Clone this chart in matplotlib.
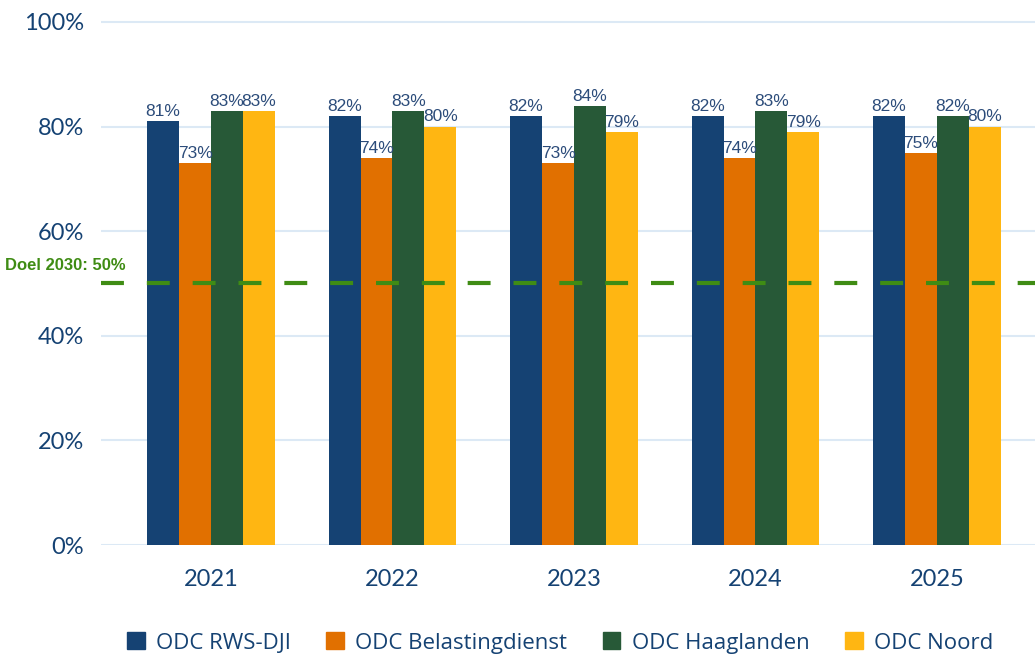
import numpy as np
import matplotlib.pyplot as plt
from matplotlib.patches import Patch

years = ['2021', '2022', '2023', '2024', '2025']
series_names = ['ODC RWS-DJI', 'ODC Belastingdienst', 'ODC Haaglanden', 'ODC Noord']
rws_dji = [81, 82, 82, 82, 82]
belastingdienst = [73, 74, 73, 74, 75]
haaglanden = [83, 83, 84, 83, 82]
noord = [83, 80, 79, 79, 80]
target = 50

colors = ['#154273', '#e17000', '#275937', '#ffb612']
text_color = '#154273'
grid_color = '#dce9f5'
target_color = '#3f8c14'

fig = plt.figure(figsize=(10.35, 6.57), dpi=100)
ax = fig.add_axes([101 / 1035, 1 - 545 / 657, 1 - 101 / 1035, (545 - 11.5) / 657])

x = np.arange(len(years))
width = 0.176
all_series = [rws_dji, belastingdienst, haaglanden, noord]

for i, (vals, col) in enumerate(zip(all_series, colors)):
    pos = x + (i - 1.5) * width
    ax.bar(pos, vals, width, color=col, zorder=3)
    for p, v in zip(pos, vals):
        ax.annotate(f'{v}%', (p, v), xytext=(0, 1.5), textcoords='offset points',
                    ha='center', va='bottom', fontsize=12.5, color='#2c4c7a',
                    family='Liberation Sans', zorder=5)

# target line
ax.axhline(target, color=target_color, lw=3, dashes=(5.5, 5.5), zorder=4)
fig.text(5 / 1035, 1 - 266 / 657, f'Doel 2030: {target}%', color=target_color,
         fontsize=12, fontweight='bold', family='Liberation Sans', va='center', ha='left')

ax.set_ylim(0, 102)
ax.set_xlim(-0.606, 4.54)
ax.set_yticks(range(0, 101, 20))
ax.set_yticklabels([f'{v}%' for v in range(0, 101, 20)])
ax.set_xticks(x)
ax.set_xticklabels(years)
ax.grid(axis='y', color=grid_color, lw=1.5, zorder=0)
for s in ax.spines.values():
    s.set_visible(False)
ax.tick_params(axis='y', length=0, pad=12, labelsize=17, labelcolor=text_color)
ax.tick_params(axis='x', length=0, pad=17, labelsize=17, labelcolor=text_color)
for lbl in ax.get_yticklabels() + ax.get_xticklabels():
    lbl.set_family('Lato')

handles = [Patch(color=c, label=n) for c, n in zip(colors, series_names)]
leg = fig.legend(handles=handles, loc='center', bbox_to_anchor=(0.541, 1 - 643 / 657),
                 ncol=4, frameon=False, handlelength=0.8, handleheight=0.8,
                 handletextpad=0.5, columnspacing=1.6,
                 prop={'family': 'Open Sans', 'size': 16})
for t in leg.get_texts():
    t.set_color(text_color)

fig.savefig('out.png', dpi=100)
